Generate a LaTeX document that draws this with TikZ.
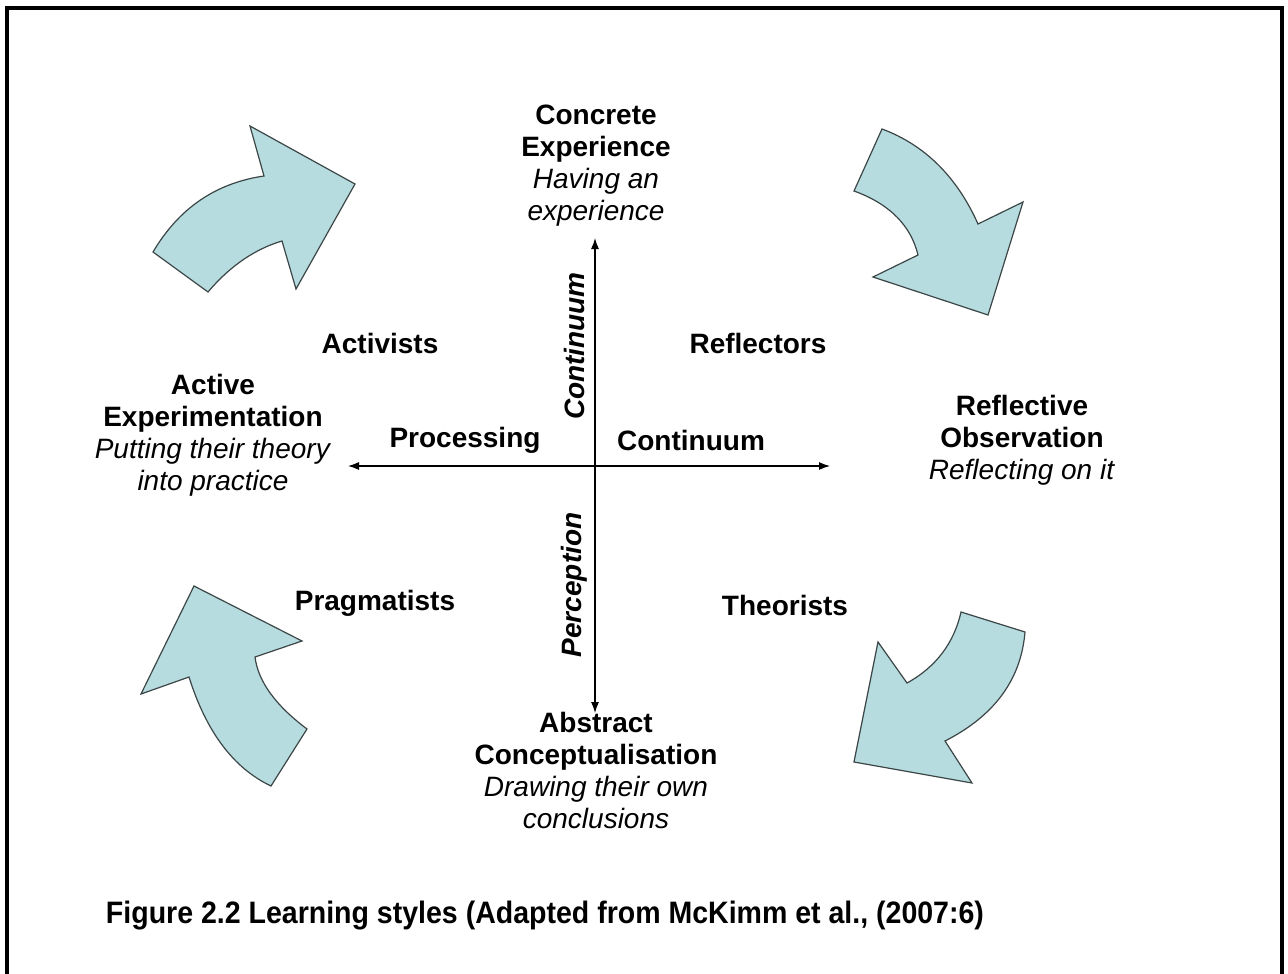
\documentclass[tikz,border=0pt]{standalone}
\usepackage{fontspec}
\setmainfont{Liberation Sans}
\usetikzlibrary{arrows.meta}
\definecolor{arrowfill}{RGB}{182,220,224}
\definecolor{arrowline}{RGB}{60,70,70}
\tikzset{
  bigarrow/.style={fill=arrowfill,draw=arrowline,line width=1.2pt,line join=miter},
  lbl/.style={font=\fontsize{28}{32}\selectfont\bfseries,inner sep=0pt},
  grp/.style={font=\fontsize{28}{32}\selectfont,align=center,inner sep=0pt},
  axis/.style={line width=1.2pt,{Latex[length=11pt,width=8pt]}-{Latex[length=11pt,width=8pt]}},
}
\begin{document}
\begin{tikzpicture}[x=1pt,y=-1pt]
\useasboundingbox (0,0) rectangle (1288,974);
\fill[white] (0,0) rectangle (1288,974);
% frame
\draw[line width=4pt] (7,1000) -- (7,8) -- (1282,8) -- (1282,1000);

% curved arrows
\draw[bigarrow] (153,252) -- (208,292) .. controls (230,266) and (255,249) .. (282,241) -- (296,289) -- (355,184) -- (250,126) -- (264,176) .. controls (216,183) and (179,208) .. (153,252) -- cycle;
\draw[bigarrow] (882,129) -- (854,191) .. controls (890,204) and (911,226) .. (918,255) -- (873,277) -- (988,315) -- (1023,202) -- (978,224) .. controls (957,177) and (925,145) .. (882,129) -- cycle;
\draw[bigarrow] (961,612) -- (1025,632) .. controls (1021,680) and (994,716) .. (945,741) -- (972,783) -- (854,762) -- (878,642) -- (907,683) .. controls (936,667) and (954,643) .. (961,612) -- cycle;
\draw[bigarrow] (194,586) -- (141,694) -- (189,677) .. controls (206,731) and (233,768) .. (271,786) -- (307,729) .. controls (275,705) and (258,681) .. (255,657) -- (302,641) -- cycle;

% axes
\coordinate (top) at (595,238);
\coordinate (bot) at (595,713);
\coordinate (lft) at (348,466);
\coordinate (rgt) at (830,466);
\draw[axis] (bot) -- (top);
\draw[axis] (lft) -- (rgt);

% labels
\node[grp] (ce) at (596,166) {\textbf{Concrete}\\\textbf{Experience}\\\textit{Having an}\\\textit{experience}};
\node[grp] (ae) at (213,435) {\textbf{Active}\\\textbf{Experimentation}\\\textit{Putting their theory}\\\textit{into practice}};
\node[grp] (ro) at (1022,440) {\textbf{Reflective}\\\textbf{Observation}\\\textit{Reflecting on it}};
\node[grp] (ac) at (596,770) {\textbf{Abstract}\\\textbf{Conceptualisation}\\\textit{Drawing their own}\\\textit{conclusions}};

\node[lbl] (act) at (380,343) {Activists};
\node[lbl] (ref) at (758,343) {Reflectors};
\node[lbl] (pra) at (375,603) {Pragmatists};
\node[lbl] (the) at (785,605) {Theorists};
\node[lbl] (proc) at (465,440) {Processing};
\node[lbl] (cont) at (691,440) {Continuum};
\node[lbl,font=\fontsize{28}{32}\selectfont\bfseries\itshape,rotate=90] (vcont) at (574,346) {Continuum};
\node[lbl,font=\fontsize{28}{32}\selectfont\bfseries\itshape,rotate=90] (perc) at (574,585) {Perception};

\node[inner sep=0pt,font=\fontsize{31}{34}\selectfont\bfseries] (cap) at (545,916) {\scalebox{0.92}[1]{Figure 2.2 Learning styles (Adapted from McKimm et al., (2007:6)}};
\end{tikzpicture}
\end{document}
